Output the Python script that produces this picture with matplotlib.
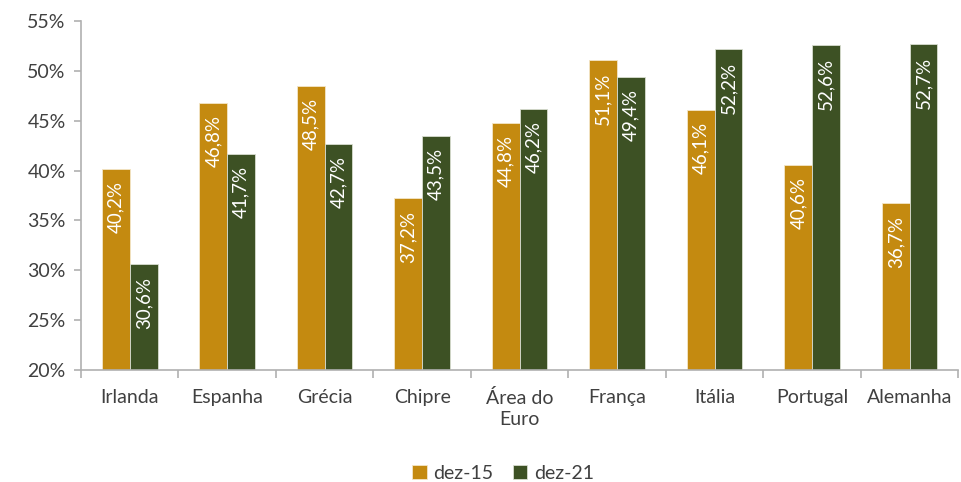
import matplotlib
matplotlib.use("Agg")
import matplotlib.pyplot as plt
import numpy as np
from matplotlib.ticker import FixedLocator, FuncFormatter

plt.rcParams['font.family'] = ['Lato', 'DejaVu Sans']

categories = ["Irlanda", "Espanha", "Grécia", "Chipre", "Área do\nEuro",
              "França", "Itália", "Portugal", "Alemanha"]
dez15 = [40.2, 46.8, 48.5, 37.2, 44.8, 51.1, 46.1, 40.6, 36.7]
dez21 = [30.6, 41.7, 42.7, 43.5, 46.2, 49.4, 52.2, 52.6, 52.7]
series_names = ["dez-15", "dez-21"]

gold = "#C48A10"
green = "#3D5124"
text_col = "#404040"
axis_col = "#B0B0B0"

fig = plt.figure(figsize=(9.62, 4.82), dpi=100)
ax = fig.add_axes([0.0842, 0.2324, 0.912, 0.724])

x = np.arange(len(categories))
w = 0.285
b1 = ax.bar(x - w / 2, dez15, w, color=gold, edgecolor="#F3E6C8", linewidth=0.6,
            label=series_names[0], zorder=2)
b2 = ax.bar(x + w / 2, dez21, w, color=green, edgecolor="#D8DDD0", linewidth=0.6,
            label=series_names[1], zorder=2)

def fmt(v):
    return f"{v:.1f}".replace(".", ",") + "%"

for bars, vals in ((b1, dez15), (b2, dez21)):
    for rect, v in zip(bars, vals):
        ax.annotate(fmt(v), (rect.get_x() + rect.get_width() / 2, v),
                    xytext=(0, -9), textcoords="offset points",
                    rotation=90, ha="center", va="top", color="white",
                    fontsize=13.5, zorder=3)

ax.set_ylim(20, 55)
ax.set_xlim(-0.5, len(categories) - 0.5)
ax.set_yticks(np.arange(20, 56, 5))
ax.yaxis.set_major_formatter(FuncFormatter(lambda v, p: f"{v:.0f}%"))
ax.set_xticks(x)
ax.set_xticklabels(categories, linespacing=1.25)
ax.xaxis.set_minor_locator(FixedLocator(np.arange(-0.5, len(categories), 1)))

for s in ("top", "right"):
    ax.spines[s].set_visible(False)
for s in ("left", "bottom"):
    ax.spines[s].set_color(axis_col)
    ax.spines[s].set_linewidth(1.2)

ax.tick_params(axis="y", colors=axis_col, labelcolor=text_col, labelsize=14,
               length=5, width=1.2, pad=6)
ax.tick_params(axis="x", which="major", length=0, labelcolor=text_col,
               labelsize=14, pad=14)
ax.tick_params(axis="x", which="minor", length=6, width=1.2, color=axis_col)

leg = fig.legend(handles=[b1, b2], labels=series_names, loc="center",
                 bbox_to_anchor=(0.523, 0.018), ncol=2, frameon=False,
                 fontsize=14, handlelength=0.75, handleheight=0.75,
                 handletextpad=0.35, columnspacing=1.0)
for t in leg.get_texts():
    t.set_color(text_col)

fig.savefig("out.png", dpi=100)
